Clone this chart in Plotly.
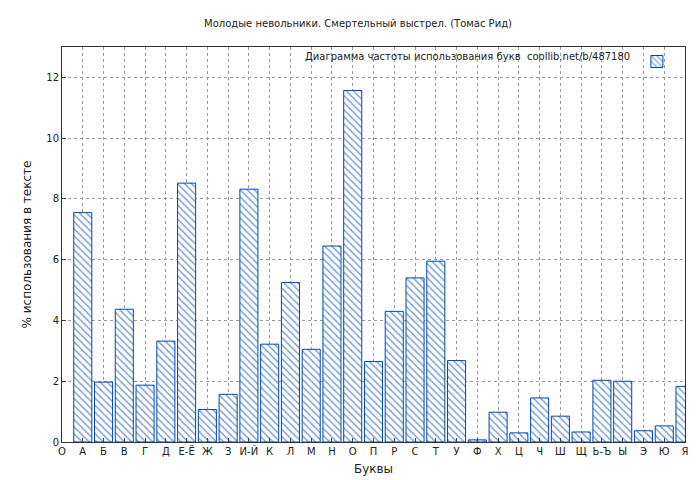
import plotly.graph_objects as go

tick_labels = ["О","А","Б","В","Г","Д","Е-Ё","Ж","З","И-Й","К","Л","М","Н","О","П","Р","С","Т","У","Ф","Х","Ц","Ч","Ш","Щ","Ь-Ъ","Ы","Э","Ю","Я"]
bar_pos = list(range(1, 31))
values = [7.55,1.97,4.37,1.87,3.32,8.52,1.07,1.57,8.32,3.22,5.25,3.05,6.45,11.57,2.65,4.3,5.4,5.95,2.68,0.07,0.98,0.3,1.45,0.85,0.33,2.03,2.0,0.37,0.53,1.83]

fig = go.Figure(go.Bar(
    x=bar_pos, y=values, width=0.87, name="",
    marker=dict(color="white", line=dict(color="#0047b3", width=1),
                pattern=dict(shape="\\", fgcolor="#0047b3", size=5, solidity=0.3)),
    showlegend=True,
))
fig.update_layout(
    width=700, height=480, paper_bgcolor="white", plot_bgcolor="white",
    margin=dict(l=54, r=23, t=39, b=46),
    font=dict(family="DejaVu Sans", size=10, color="#222"),
    title=dict(text="Молодые невольники. Смертельный выстрел. (Томас Рид)", x=0.5, y=0.975, xanchor="center", font=dict(size=10)),
    xaxis=dict(range=[0, 30], tickmode="array", tickvals=list(range(31)), ticktext=tick_labels, automargin=False,
               showgrid=True, gridcolor="#999", griddash="dot", showline=True, linecolor="#333",
               mirror=True, ticks="inside", ticklen=4, title=dict(text="Буквы", standoff=8)),
    yaxis=dict(range=[0, 13], dtick=2, showgrid=True, gridcolor="#999", griddash="dot", showline=True, automargin=False,
               linecolor="#333", mirror=True, ticks="inside", ticklen=4, zeroline=False,
               title=dict(text="% использования в тексте", standoff=12)),
    legend=dict(x=0.995, y=1.0, xanchor="right", yanchor="top", bgcolor="rgba(255,255,255,0)",
                itemwidth=30, font=dict(size=10)),
    annotations=[dict(text="Диаграмма частоты использования букв  coollib.net/b/487180", xref="paper", yref="paper",
                      x=0.915, y=0.995, xanchor="right", yanchor="top", showarrow=False, font=dict(size=10))],
)
fig.write_html("out.html")
